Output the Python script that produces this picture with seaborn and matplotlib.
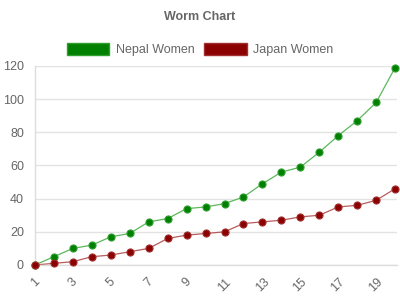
import matplotlib
matplotlib.use("Agg")
import matplotlib.pyplot as plt
import seaborn as sns
import pandas as pd
from matplotlib.patches import Patch

overs = list(range(1, 21))
nepal = [0, 5, 10, 12, 17, 19, 26, 28, 34, 35, 37, 41, 49, 56, 59, 68, 78, 87, 98, 119]
japan = [0, 1, 2, 5, 6, 8, 10, 16, 18, 19, 20, 25, 26, 27, 29, 30, 35, 36, 39, 46]
series = ["Nepal Women", "Japan Women"]
x_ticks = [1, 3, 5, 7, 9, 11, 13, 15, 17, 19]
y_ticks = [0, 20, 40, 60, 80, 100, 120]

df = pd.DataFrame({
    "over": overs * 2,
    "runs": nepal + japan,
    "team": [series[0]] * len(overs) + [series[1]] * len(overs),
})

sns.set_theme(style="white")
plt.rcParams["font.family"] = ["Liberation Sans", "DejaVu Sans"]

fig = plt.figure(figsize=(4, 3), dpi=100)
ax = fig.add_axes([0.0875, 0.1167, 0.905, 0.6633])

line_colors = {series[0]: "#5cb85c", series[1]: "#b85c5c"}
marker_colors = {series[0]: "#008000", series[1]: "#8b0000"}
edge_colors = {series[0]: "#2fa02f", series[1]: "#a03030"}

sns.lineplot(data=df, x="over", y="runs", hue="team", palette=line_colors,
             linewidth=0.9, legend=False, ax=ax)
for t in series:
    sub = df[df.team == t]
    sns.scatterplot(x=sub["over"], y=sub["runs"], color=marker_colors[t],
                    edgecolor=edge_colors[t], linewidth=0.8, s=26,
                    zorder=5, clip_on=False, legend=False, ax=ax)

ax.set_xlim(1, 20.1)
ax.set_ylim(0, 120)
ax.set_xticks(x_ticks)
ax.set_yticks(y_ticks)
ax.set_xlabel("")
ax.set_ylabel("")
ax.grid(axis="y", color="#e3e3e3", linewidth=1)
ax.grid(axis="x", visible=False)
for side in ["top", "right"]:
    ax.spines[side].set_visible(False)
ax.spines["left"].set_color("#dddddd")
ax.spines["bottom"].set_color("#dddddd")
ax.spines["left"].set_linewidth(1)
ax.spines["bottom"].set_linewidth(1)
ax.tick_params(axis="both", length=5, color="#dddddd", labelcolor="#666666",
               labelsize=9, pad=3)
for lbl in ax.get_xticklabels():
    lbl.set_rotation(45)
    lbl.set_ha("center")

fig.text(0.5, 0.942, "Worm Chart", ha="center", va="center",
         fontsize=9, fontweight="bold", color="#666666")

handles = [Patch(facecolor=marker_colors[s], edgecolor=edge_colors[s], linewidth=1, label=s)
           for s in series]
fig.legend(handles=handles, loc="center", bbox_to_anchor=(0.5, 0.835), ncol=2,
           frameon=False, fontsize=9, labelcolor="#666666", handlelength=3.4,
           handleheight=1.1, columnspacing=0.8, handletextpad=0.5)

fig.savefig("out.png", dpi=100)
